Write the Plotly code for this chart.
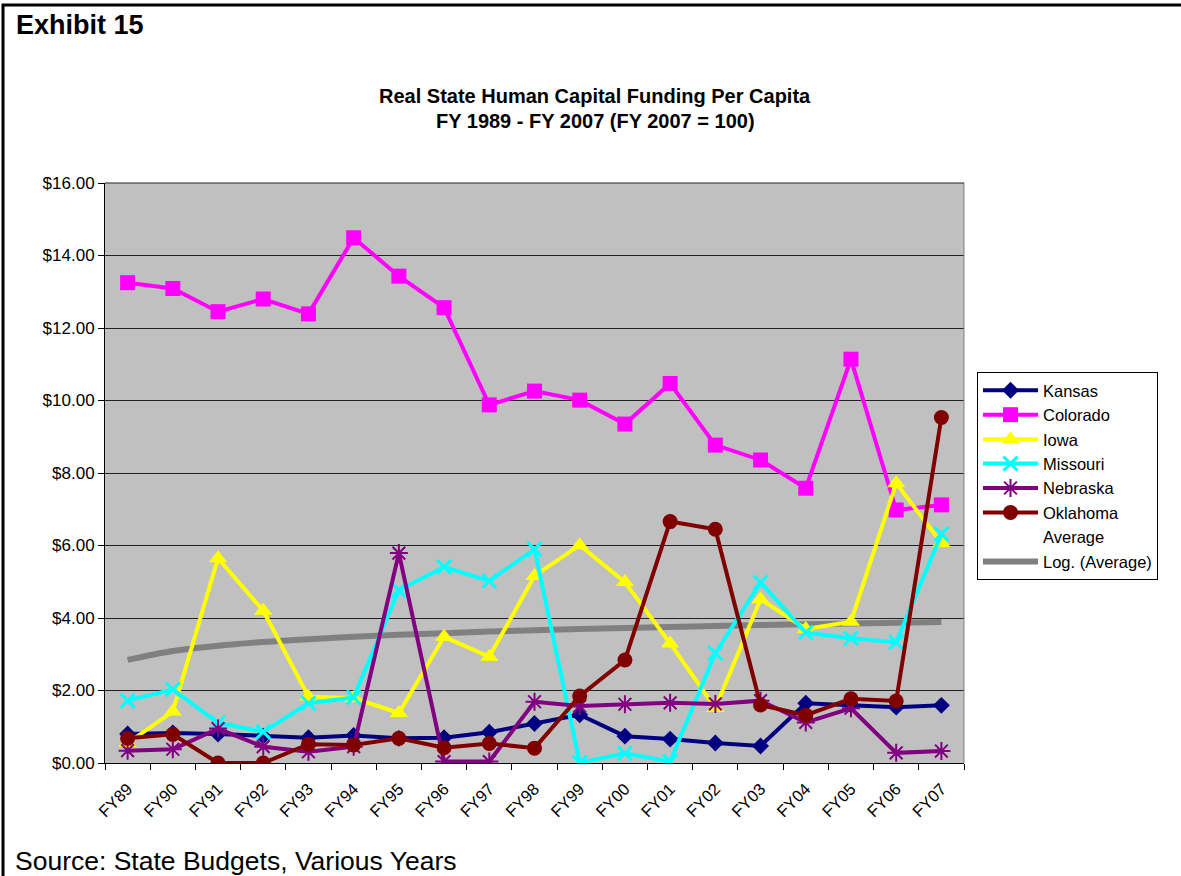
import numpy as np
import plotly.graph_objects as go

# Fiscal years on the category axis
years = ["FY89", "FY90", "FY91", "FY92", "FY93", "FY94", "FY95", "FY96", "FY97", "FY98",
         "FY99", "FY00", "FY01", "FY02", "FY03", "FY04", "FY05", "FY06", "FY07"]

# Real per-capita human capital funding by state (FY 2007 dollars)
kansas = [0.80, 0.83, 0.80, 0.74, 0.70, 0.76, 0.68, 0.70, 0.85, 1.09,
          1.33, 0.74, 0.66, 0.55, 0.47, 1.65, 1.60, 1.54, 1.59]
colorado = [13.25, 13.09, 12.45, 12.80, 12.39, 14.49, 13.43, 12.56, 9.88, 10.26,
            10.01, 9.35, 10.47, 8.77, 8.36, 7.58, 11.14, 6.98, 7.12]
iowa = [0.55, 1.42, 5.65, 4.20, 1.83, 1.79, 1.38, 3.48, 2.93, 5.16,
        6.01, 4.99, 3.30, 1.52, 4.52, 3.70, 3.90, 7.72, 6.07]
missouri = [1.72, 2.03, 1.11, 0.86, 1.65, 1.81, 4.77, 5.41, 5.02, 5.90,
            0.01, 0.27, 0.04, 3.03, 4.98, 3.60, 3.44, 3.33, 6.32]
nebraska = [0.34, 0.38, 0.95, 0.45, 0.31, 0.45, 5.79, 0.04, 0.04, 1.69,
            1.57, 1.62, 1.66, 1.63, 1.72, 1.12, 1.51, 0.28, 0.33]
oklahoma = [0.68, 0.79, 0.00, 0.00, 0.52, 0.50, 0.68, 0.42, 0.54, 0.41,
            1.85, 2.84, 6.66, 6.45, 1.60, 1.32, 1.77, 1.71, 9.53]

states = [
    ("Kansas", kansas, "#000080", "diamond", 13, None),
    ("Colorado", colorado, "#FF00FF", "square", 15, None),
    ("Iowa", iowa, "#FFFF00", "triangle-up", 16, None),
    ("Missouri", missouri, "#00FFFF", "x-thin-open", 14, 3),
    ("Nebraska", nebraska, "#800080", "asterisk-open", 15, 2),
    ("Oklahoma", oklahoma, "#800000", "circle", 15, None),
]

# Average of the six states and its logarithmic trend
average = np.mean(np.array([s[1] for s in states]), axis=0)
idx = np.arange(1, len(years) + 1)
b, a = np.polyfit(np.log(idx), average, 1)
log_trend = a + b * np.log(idx)

# Plot area in pixels
W, H = 1181, 876
L, R, T, B = 105, 217, 183, 113
PW, PH = W - L - R, H - T - B


def px_x(px):
    return (px - L) / PW


def px_y(py):
    return (H - B - py) / PH


FONT = "Liberation Sans, Arial, sans-serif"

fig = go.Figure()

fig.add_trace(go.Scatter(
    x=years, y=log_trend, name="Log. (Average)", mode="lines",
    line=dict(color="#808080", width=6, shape="spline"),
    legendrank=8, hoverinfo="skip",
))

for rank, (name, vals, color, symbol, size, mlw) in enumerate(states, start=1):
    marker = dict(symbol=symbol, size=size, color=color)
    if mlw:
        marker["line"] = dict(color=color, width=mlw)
    fig.add_trace(go.Scatter(
        x=years, y=vals, name=name, mode="lines+markers",
        line=dict(color=color, width=4), marker=marker, legendrank=rank,
    ))

fig.add_trace(go.Scatter(
    x=years, y=average, name="Average", mode="lines",
    line=dict(color="rgba(0,0,0,0)", width=1), legendrank=7,
))

fig.update_layout(
    width=W, height=H,
    margin=dict(l=L, r=R, t=T, b=B),
    paper_bgcolor="white",
    plot_bgcolor="#C0C0C0",
    font=dict(family=FONT, size=16, color="black"),
    showlegend=True,
    legend=dict(
        x=px_x(977), y=px_y(372), xanchor="left", yanchor="top",
        bgcolor="white", bordercolor="black", borderwidth=1,
        font=dict(family=FONT, size=16.5, color="black"),
        itemwidth=55, tracegroupgap=0,
    ),
    xaxis=dict(
        type="category", tickson="boundaries", ticks="outside", ticklen=6,
        tickcolor="black", tickangle=-45, showgrid=False, showline=True,
        linecolor="black", linewidth=1, tickfont=dict(size=16.5),
        ticklabelstandoff=9,
        range=[-0.5, len(years) - 0.5],
    ),
    yaxis=dict(
        range=[0, 16], dtick=2, tickformat="$.2f", ticks="outside", ticklen=6,
        tickcolor="black", showgrid=True, gridcolor="#222222", gridwidth=1,
        showline=True, linecolor="black", linewidth=1, zeroline=False,
        tickfont=dict(size=17),
    ),
    shapes=[
        # right edge of the plot area
        dict(type="line", xref="paper", yref="paper", x0=1, x1=1, y0=0, y1=1,
             line=dict(color="#808080", width=1)),
        # top edge of the plot area
        dict(type="line", xref="paper", yref="paper", x0=0, x1=1, y0=1, y1=1,
             line=dict(color="#222222", width=1)),
        # frame around the exhibit
        dict(type="path", xref="paper", yref="paper",
             path=f"M {px_x(3)} {px_y(900)} L {px_x(3)} {px_y(5)} L {px_x(1200)} {px_y(5)}",
             line=dict(color="black", width=3)),
    ],
    annotations=[
        dict(text="<b>Exhibit 15</b>", xref="paper", yref="paper",
             x=px_x(14), y=px_y(25), xanchor="left", yanchor="middle",
             showarrow=False, font=dict(size=27)),
        dict(text="<b>Real State Human Capital Funding Per Capita</b>", xref="paper", yref="paper",
             x=px_x(595), y=px_y(96), xanchor="center", yanchor="middle",
             showarrow=False, font=dict(size=20)),
        dict(text="<b>FY 1989 - FY 2007 (FY 2007 = 100)</b>", xref="paper", yref="paper",
             x=px_x(595), y=px_y(121), xanchor="center", yanchor="middle",
             showarrow=False, font=dict(size=20)),
        dict(text="Source: State Budgets, Various Years", xref="paper", yref="paper",
             x=px_x(13), y=px_y(861), xanchor="left", yanchor="middle",
             showarrow=False, font=dict(size=26.5)),
    ],
)

fig.write_html("out.html")
